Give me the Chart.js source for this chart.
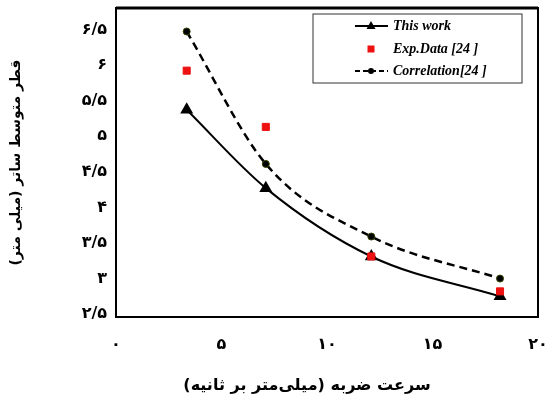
<!DOCTYPE html>
<html>
<head>
<meta charset="utf-8">
<script src="https://cdn.jsdelivr.net/npm/chart.js@4"></script>
<style>
  html, body { margin: 0; padding: 0; background: #fff; }
  #wrap { width: 550px; height: 403px; position: relative; }
</style>
</head>
<body>
<div id="wrap"><canvas id="sizeChart"></canvas></div>
<script>
// سرعت ضربه (x) و قطر متوسط (y)
const speeds = [3.35, 7.1, 12.1, 18.2];
const thisWork = [5.37, 4.27, 3.31, 2.75];
const expData = [5.92, 5.13, 3.31, 2.82];
const correlation = [6.47, 4.61, 3.59, 3.0];
const xTicks = [0, 5, 10, 15, 20];
const yTicks = [2.5, 3, 3.5, 4, 4.5, 5, 5.5, 6, 6.5];
const legendLabels = ['This work', 'Exp.Data [24 ]', 'Correlation[24 ]'];
const xTitle = 'سرعت ضربه (میلی‌متر بر ثانیه)';
const yTitle = 'قطر متوسط ساتر (میلی متر)';

// ارقام فارسی
function toPersian(v) {
    const digits = '۰۱۲۳۴۵۶۷۸۹';
    return String(v).replace(/[0-9]/g, d => digits[d]).replace('.', '/');
}

function points(ys) {
    return speeds.map((x, i) => ({ x: x, y: ys[i] }));
}

// قاب دور نمودار، عنوان محور افقی و راهنما
const framePlugin = {
    id: 'frame',
    afterDraw(chart) {
        const ctx = chart.ctx;
        const a = chart.chartArea;
        ctx.save();
        ctx.strokeStyle = '#000';
        ctx.lineWidth = 2;
        ctx.strokeRect(a.left, a.top, a.right - a.left, a.bottom - a.top);
        ctx.lineWidth = 3;
        ctx.beginPath();
        ctx.moveTo(a.left, a.top);
        ctx.lineTo(a.right, a.top);
        ctx.stroke();

        // عنوان محور افقی
        ctx.fillStyle = '#000';
        ctx.font = 'bold 16px "DejaVu Sans"';
        ctx.textAlign = 'center';
        ctx.textBaseline = 'middle';
        ctx.fillText(xTitle, 307, 386);

        // راهنما
        const bx = 313, by = 14, bw = 209, bh = 69;
        ctx.fillStyle = '#fff';
        ctx.fillRect(bx, by, bw, bh);
        ctx.lineWidth = 1;
        ctx.strokeStyle = '#333';
        ctx.strokeRect(bx, by, bw, bh);

        const rows = [26, 49, 71];
        const x1 = 355, x2 = 388, xm = 371, tx = 393;
        ctx.strokeStyle = '#000';
        ctx.lineWidth = 2;
        ctx.beginPath(); ctx.moveTo(x1, rows[0]); ctx.lineTo(x2, rows[0]); ctx.stroke();
        ctx.fillStyle = '#000';
        ctx.beginPath();
        ctx.moveTo(xm, rows[0] - 5); ctx.lineTo(xm + 4.5, rows[0] + 3); ctx.lineTo(xm - 4.5, rows[0] + 3);
        ctx.closePath(); ctx.fill();
        ctx.fillStyle = '#ee1111';
        ctx.fillRect(xm - 3.5, rows[1] - 3.5, 7, 7);
        ctx.setLineDash([5, 3]);
        ctx.beginPath(); ctx.moveTo(x1, rows[2]); ctx.lineTo(x2, rows[2]); ctx.stroke();
        ctx.setLineDash([]);
        ctx.fillStyle = '#000';
        ctx.beginPath(); ctx.arc(xm, rows[2], 3, 0, Math.PI * 2); ctx.fill();

        ctx.font = 'italic bold 14px "Liberation Serif"';
        ctx.textAlign = 'left';
        legendLabels.forEach((t, i) => ctx.fillText(t, tx, rows[i]));
        ctx.restore();
    }
};

const ctx = document.getElementById('sizeChart');

new Chart(ctx, {
    type: 'scatter',
    data: {
        datasets: [
            {
                label: legendLabels[0],
                data: points(thisWork),
                showLine: true,
                cubicInterpolationMode: 'monotone',
                borderColor: '#000',
                borderWidth: 2,
                pointStyle: 'triangle',
                pointRadius: 5.5,
                pointBackgroundColor: '#000',
                pointBorderColor: '#000',
                order: 3
            },
            {
                label: legendLabels[2],
                data: points(correlation),
                showLine: true,
                cubicInterpolationMode: 'monotone',
                borderColor: '#000',
                borderWidth: 2.5,
                borderDash: [8, 5],
                pointStyle: 'circle',
                pointRadius: 3.5,
                pointBackgroundColor: '#000',
                pointBorderColor: '#334400',
                pointBorderWidth: 1,
                order: 2
            },
            {
                label: legendLabels[1],
                data: points(expData),
                showLine: false,
                pointStyle: 'rect',
                pointRadius: 5,
                pointBackgroundColor: '#ee1111',
                pointBorderColor: '#ee1111',
                order: 1
            }
        ]
    },
    options: {
        responsive: true,
        maintainAspectRatio: false,
        animation: false,
        layout: { padding: { left: 0, right: 12, top: 8, bottom: 0 } },
        plugins: {
            legend: { display: false },
            tooltip: { enabled: false }
        },
        scales: {
            x: {
                type: 'linear',
                min: 0,
                max: 20,
                afterBuildTicks: axis => { axis.ticks = xTicks.map(v => ({ value: v })); },
                afterFit: axis => { axis.height = 86; axis.paddingLeft = 0; axis.paddingRight = 0; },
                grid: { display: false, drawTicks: false },
                border: { display: false },
                ticks: {
                    padding: 18,
                    color: '#000',
                    font: { family: 'DejaVu Sans', size: 16, weight: 'bold' },
                    callback: v => toPersian(v)
                }
            },
            y: {
                type: 'linear',
                min: 2.46,
                max: 6.8,
                afterBuildTicks: axis => { axis.ticks = yTicks.map(v => ({ value: v })); },
                afterFit: axis => { axis.width = 116; axis.paddingTop = 0; axis.paddingBottom = 0; },
                grid: { display: false, drawTicks: false },
                border: { display: false },
                ticks: {
                    padding: 9,
                    color: '#000',
                    font: { family: 'DejaVu Sans', size: 16, weight: 'bold' },
                    callback: v => toPersian(v)
                },
                title: {
                    display: true,
                    text: yTitle,
                    color: '#000',
                    padding: { top: 8, bottom: 20 },
                    font: { family: 'DejaVu Sans', size: 14, weight: 'bold' }
                }
            }
        }
    },
    plugins: [framePlugin]
});
</script>
</body>
</html>
